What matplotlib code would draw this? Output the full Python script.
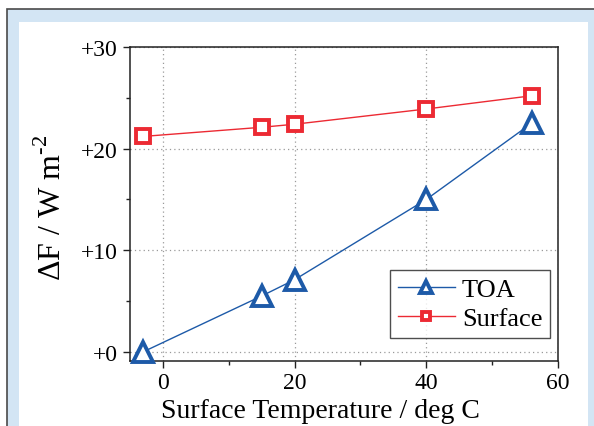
import matplotlib
matplotlib.use("Agg")
import matplotlib.pyplot as plt
from matplotlib.patches import Rectangle
from matplotlib.ticker import FixedLocator

plt.rcParams["font.family"] = ["Liberation Serif", "DejaVu Serif"]
plt.rcParams["mathtext.fontset"] = "custom"
plt.rcParams["mathtext.rm"] = "Liberation Serif"

# Surface temperature (deg C) and radiative forcing (W m^-2)
temps = [-3, 15, 20, 40, 56]
toa = [0.0, 5.5, 7.1, 15.0, 22.5]
surface = [21.2, 22.1, 22.4, 23.9, 25.2]

xticks = [0, 20, 40, 60]
xtick_labels = ["0", "20", "40", "60"]
yticks = [0, 10, 20, 30]
ytick_labels = ["+0", "+10", "+20", "+30"]

W, H = 594, 427
fig = plt.figure(figsize=(W / 100, H / 100), dpi=100)

# page frame: light blue band with a dark outline, white panel inside
fig.patches.append(Rectangle((6.5 / W, -0.05), 1.1, 1 - 9.5 / H + 0.05,
                             transform=fig.transFigure, facecolor="#d3e5f4",
                             edgecolor="#4a4a4a", linewidth=1.2, zorder=-2))
fig.patches.append(Rectangle((19 / W, -0.05), (588 - 19) / W, 1 - 23 / H + 0.05,
                             transform=fig.transFigure, facecolor="white",
                             edgecolor="none", zorder=-1))

ax = fig.add_axes([130 / W, 1 - 362 / H, (558 - 130) / W, (362 - 48) / H])
ax.set_facecolor("none")

blue = "#1d5aa8"
red = "#ec2a33"
ax.plot(temps, toa, color=blue, lw=1.0, marker="^", ms=14, mew=2.8,
        mfc="white", mec=blue, label="TOA", zorder=3, clip_on=False)
ax.plot(temps, surface, color=red, lw=1.0, marker="s", ms=10, mew=2.8,
        mfc="white", mec=red, label="Surface", zorder=3, clip_on=False)

ax.set_xlim(-5, 60)
ax.set_ylim(-0.9, 30)
ax.xaxis.set_major_locator(FixedLocator(xticks))
ax.set_xticklabels(xtick_labels)
ax.xaxis.set_minor_locator(FixedLocator([10, 30, 50]))
ax.yaxis.set_major_locator(FixedLocator(yticks))
ax.set_yticklabels(ytick_labels)
ax.yaxis.set_minor_locator(FixedLocator([5, 15, 25]))

ax.grid(True, which="major", color="#9a9a9a", lw=0.9, ls=(0, (1, 2.5)))
ax.set_axisbelow(True)

for s in ax.spines.values():
    s.set_color("#222222")
    s.set_linewidth(1.1)

ax.tick_params(which="major", direction="out", length=5, width=1.0,
               color="#222222", labelsize=17)
ax.tick_params(axis="x", which="major", pad=3)
ax.tick_params(axis="y", which="major", pad=4)
ax.tick_params(which="minor", direction="out", length=3, width=1.0,
               color="#222222")

ax.set_xlabel("Surface Temperature / deg C", fontsize=20)
ax.xaxis.set_label_coords(0.446, -0.118)
ax.set_ylabel(r"$\Delta$F / W m$^{\mathrm{\text{-}2}}$", fontsize=23)
ax.yaxis.set_label_coords(-0.145, 0.49)

leg = ax.legend(loc="lower right", bbox_to_anchor=(0.982, 0.073),
                borderaxespad=0, fontsize=19, frameon=True, fancybox=False,
                edgecolor="#222222", markerscale=0.6, handlelength=2.15,
                handletextpad=0.27, borderpad=0.3, labelspacing=0.2)
leg.get_frame().set_linewidth(1.0)

fig.savefig("out.png", dpi=100)
